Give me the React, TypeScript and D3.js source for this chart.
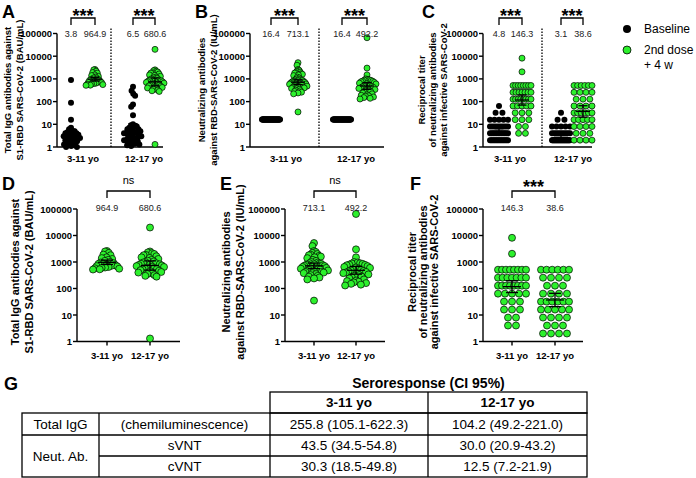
import React from 'react';
import * as d3 from 'd3';

const FONT = "'Liberation Sans', Arial, Helvetica, sans-serif";
const GREEN = '#2cf02c';

// ---------------- data ----------------
const ageGroups = ['3-11 yo', '12-17 yo'];
const logTicks = [1, 10, 100, 1000, 10000, 100000];

// Total IgG (BAU/mL)
const iggBase311 = [900, 90, 16, 7, 6, 5, 5, 4.5, 4, 4, 3.5, 3.5, 3, 3, 3, 2.5, 2.5, 2.2, 2, 2, 1.8, 1.6, 1.5, 1.4, 1.3, 1.2, 1.1, 1, 1];
const iggDose311 = [2600, 2500, 2200, 1900, 1800, 1500, 1400, 1300, 1200, 1100, 1000, 950, 900, 880, 850, 800, 760, 720, 700, 680, 650, 620, 600, 580, 560, 530, 520];
const iggBase1217 = [450, 300, 220, 180, 75, 60, 25, 10, 9, 8, 8, 7, 6, 6, 5, 5, 5, 4.5, 4, 4, 4, 3.5, 3, 3, 3, 2.5, 2.5, 2.2, 2, 2, 2, 1.8, 1.6, 1.5, 1.4, 1.3, 1.2, 1.1];
const iggDose1217 = [20000, 2500, 2300, 2150, 2000, 1850, 1800, 1650, 1500, 1420, 1300, 1200, 1120, 1050, 1000, 960, 900, 860, 820, 800, 770, 740, 700, 670, 650, 610, 590, 570, 540, 520, 490, 470, 450, 420, 400, 370, 350, 320, 300, 280, 1.3];

// Neutralizing antibodies (IU/mL) - baseline at detection limit: [value, count]
const nabBase311: [number, number][] = [[16.4, 45]];
const nabBase1217: [number, number][] = [[16.4, 40]];
const nabDose311 = [5200, 4000, 2600, 2400, 2200, 2000, 1900, 1800, 1700, 1600, 1500, 1400, 1200, 1100, 1000, 950, 900, 870, 850, 820, 800, 780, 750, 720, 700, 680, 650, 620, 600, 580, 560, 540, 520, 500, 480, 450, 450, 430, 420, 400, 380, 380, 350, 320, 300, 280, 260, 240, 220, 35];
const nabDose1217 = [65000, 3000, 1500, 1000, 950, 900, 880, 850, 800, 780, 750, 700, 650, 620, 600, 560, 520, 500, 480, 460, 440, 420, 400, 380, 360, 340, 320, 300, 280, 260, 240, 220, 200, 190, 180, 170, 160, 150, 140, 130];

// Reciprocal titer (cVNT): [titer, count]
const vntBase311: [number, number][] = [[64, 1], [32, 2], [16, 5], [8, 9], [4, 12], [2, 16]];
const vntDose311: [number, number][] = [[8192, 1], [2048, 1], [512, 8], [256, 7], [128, 8], [64, 5], [32, 3], [16, 3], [8, 2], [4, 2]];
const vntBase1217: [number, number][] = [[32, 1], [16, 2], [8, 5], [4, 10], [2, 28]];
const vntDose1217: [number, number][] = [[512, 6], [256, 4], [128, 3], [64, 4], [32, 6], [16, 5], [8, 4], [4, 3], [2, 4]];

const gmtIgg = ['3.8', '964.9', '6.5', '680.6'];
const gmtNab = ['16.4', '713.1', '16.4', '492.2'];
const gmtVnt = ['4.8', '146.3', '3.1', '38.6'];
const sigTop = ['***', '***'];
const sigBottom = ['ns', 'ns', '***'];
const legendLabels = ['Baseline', '2nd dose', '+ 4 w'];

const labelIgg = ['Total IgG antibodies against', 'S1-RBD SARS-CoV-2 (BAU/mL)'];
const labelNab = ['Neutralizing antibodies', 'against RBD-SARS-CoV-2 (IU/mL)'];
const labelVnt = ['Reciprocal titer', 'of neutralizing antibodies', 'against infective SARS-CoV-2'];

const tableTitle = 'Seroresponse (CI 95%)';
const tableRowLabels = ['Total IgG', 'Neut. Ab.'];
const tableMethods = ['(chemiluminescence)', 'sVNT', 'cVNT'];
const seroIgG = ['255.8 (105.1-622.3)', '104.2 (49.2-221.0)'];
const seroSvnt = ['43.5 (34.5-54.8)', '30.0 (20.9-43.2)'];
const seroCvnt = ['30.3 (18.5-49.8)', '12.5 (7.2-21.9)'];

// ---------------- helpers ----------------
const expand = (pairs: [number, number][]) => pairs.flatMap(([v, n]) => Array(n).fill(v) as number[]);

function swarm(ys: number[], d: number): number[] {
  const order = ys.map((_, i) => i).sort((a, b) => ys[a] - ys[b]);
  const placed: { x: number; y: number }[] = [];
  const xs = new Array(ys.length).fill(0);
  for (const i of order) {
    const y = ys[i];
    const iv: [number, number][] = [];
    for (const p of placed) {
      const dy = Math.abs(p.y - y);
      if (dy < d) {
        const w = Math.sqrt(d * d - dy * dy);
        iv.push([p.x - w, p.x + w]);
      }
    }
    const cands = [0];
    iv.forEach(([a, b]) => cands.push(a, b));
    cands.sort((a, b) => Math.abs(a) - Math.abs(b));
    let best = 0;
    for (const c of cands) {
      if (iv.every(([a, b]) => c <= a + 1e-6 || c >= b - 1e-6)) { best = c; break; }
    }
    xs[i] = best;
    placed.push({ x: best, y });
  }
  return xs;
}

function layout(values: number[], y: (v: number) => number, mode: string, r: number, maxHalf: number): number[] {
  const d = 2 * r * 0.95;
  if (mode === 'rows') {
    const xs = new Array(values.length).fill(0);
    const g = d3.group(values.map((_, i) => i), (i) => values[i]);
    for (const [, idx] of g) {
      const n = idx.length;
      const s = n > 1 ? Math.min(d * 1.2, (2 * maxHalf) / (n - 1)) : 0;
      idx.forEach((i, j) => (xs[i] = (j - (n - 1) / 2) * s));
    }
    return xs;
  }
  const xs = swarm(values.map(y), d);
  const m = d3.max(xs, (x) => Math.abs(x)) || 0;
  const k = m > maxHalf ? maxHalf / m : 1;
  return xs.map((x) => x * k);
}

function gmci(values: number[]): [number, number, number] {
  const l = values.map(Math.log10);
  const m = d3.mean(l) as number;
  const sd = d3.deviation(l) || 0;
  const h = (2.0 * sd) / Math.sqrt(l.length);
  return [10 ** m, 10 ** (m - h), 10 ** (m + h)];
}

type Group = { cx: number; values: number[]; color: 'black' | 'green'; mode: string };
type PanelProps = {
  letter: string; letterX: number; letterY: number;
  axisX: number; xEnd: number; yTop: number; yBottom: number;
  groups: Group[]; gmt: string[]; gmtY: number;
  dottedX?: number;
  brackets: { x1: number; x2: number; text: string }[];
  brTop: number; brLeg: number; sigY: number; nsY: number;
  xLabels: { x: number; text: string }[]; xTicks: boolean; xLabelY: number;
  yLabel: string[]; yLabelX: number[]; yLabelY: number; yLabelSize: number;
  r: number; maxHalf: number; gmHalf: number; capHalf: number;
};

const Panel = (p: PanelProps) => {
  const y = d3.scaleLog().domain([1, 100000]).range([p.yBottom, p.yTop]);
  return (
    <g>
      <text x={p.letterX} y={p.letterY} fontSize={18} fontWeight="bold" fontFamily={FONT}>{p.letter}</text>
      {p.yLabel.map((t, i) => (
        <text key={i} transform={`translate(${p.yLabelX[i]},${p.yLabelY}) rotate(-90)`} textAnchor="middle"
          dominantBaseline="central" fontSize={p.yLabelSize} fontWeight="bold" fontFamily={FONT}>{t}</text>
      ))}
      {/* y axis */}
      <line x1={p.axisX} x2={p.axisX} y1={y(100000)} y2={y(1)} stroke="#000" strokeWidth={1.4} />
      {logTicks.map((t) => (
        <g key={t}>
          <line x1={p.axisX - 4} x2={p.axisX} y1={y(t)} y2={y(t)} stroke="#000" strokeWidth={1.4} />
          <text x={p.axisX - 5} y={y(t)} textAnchor="end" dominantBaseline="central" fontSize={9.5}
            fontWeight="bold" fontFamily={FONT}>{t}</text>
        </g>
      ))}
      {/* x axis */}
      <line x1={p.axisX} x2={p.xEnd} y1={y(1)} y2={y(1)} stroke="#000" strokeWidth={1.4} />
      {p.xLabels.map((l, i) => (
        <g key={i}>
          {p.xTicks && <line x1={l.x} x2={l.x} y1={y(1)} y2={y(1) + 4} stroke="#000" strokeWidth={1.4} />}
          <text x={l.x} y={p.xLabelY} textAnchor="middle" dominantBaseline="central" fontSize={9.5}
            fontWeight="bold" fontFamily={FONT}>{l.text}</text>
        </g>
      ))}
      {p.dottedX !== undefined && (
        <line x1={p.dottedX} x2={p.dottedX} y1={y(100000) - 5} y2={y(1)} stroke="#000" strokeWidth={1.3}
          strokeDasharray="1.4,1.6" />
      )}
      {/* points */}
      {p.groups.map((g, gi) => {
        const xs = layout(g.values, y, g.mode, p.r, p.maxHalf);
        return (
          <g key={gi}>
            {g.values.map((v, i) => (
              <circle key={i} cx={g.cx + xs[i]} cy={y(v)} r={p.r}
                fill={g.color === 'black' ? '#000' : GREEN} stroke="#000"
                strokeWidth={g.color === 'black' ? 0 : 0.7} />
            ))}
          </g>
        );
      })}
      {/* error bars */}
      {p.groups.map((g, gi) => {
        const [m, lo, hi] = gmci(g.values);
        return (
          <g key={gi} stroke="#000" strokeWidth={1.3}>
            <line x1={g.cx - p.gmHalf} x2={g.cx + p.gmHalf} y1={y(m)} y2={y(m)} />
            <line x1={g.cx} x2={g.cx} y1={y(lo)} y2={y(hi)} />
            <line x1={g.cx - p.capHalf} x2={g.cx + p.capHalf} y1={y(lo)} y2={y(lo)} />
            <line x1={g.cx - p.capHalf} x2={g.cx + p.capHalf} y1={y(hi)} y2={y(hi)} />
          </g>
        );
      })}
      {/* gmt labels */}
      {p.groups.map((g, gi) => (
        <text key={gi} x={g.cx} y={p.gmtY} textAnchor="middle" dominantBaseline="central" fontSize={9}
          fill="#222" fontFamily={FONT}>{p.gmt[gi]}</text>
      ))}
      {/* brackets */}
      {p.brackets.map((b, i) => (
        <g key={i}>
          <path d={`M${b.x1},${p.brLeg}V${p.brTop}H${b.x2}V${p.brLeg}`} fill="none" stroke="#000" strokeWidth={1.3} />
          {b.text === 'ns' ? (
            <text x={(b.x1 + b.x2) / 2} y={p.nsY} textAnchor="middle" dominantBaseline="central" fontSize={11}
              fontFamily={FONT}>{b.text}</text>
          ) : (
            <text x={(b.x1 + b.x2) / 2} y={p.sigY} textAnchor="middle" fontSize={18} fontWeight="bold"
              fontFamily={FONT}>{b.text}</text>
          )}
        </g>
      ))}
    </g>
  );
};

const top = { yTop: 33.5, yBottom: 147, gmtY: 34, brTop: 18, brLeg: 25, sigY: 22, nsY: 12, xTicks: false, xLabelY: 158,
  yLabelY: 90, yLabelSize: 9.5, r: 3, maxHalf: 9, gmHalf: 7, capHalf: 4.5 };
const bottom = { yTop: 209, yBottom: 341.5, gmtY: 208, brTop: 191, brLeg: 198, sigY: 193, nsY: 180, xTicks: true, xLabelY: 355,
  yLabelY: 272, yLabelSize: 11, r: 3.5, maxHalf: 14, gmHalf: 9, capHalf: 6 };

const Table = () => {
  const L = 22, C1 = 99, C2 = 270, C3 = 428, R = 587;
  const H0 = 392, H1 = 413, R1 = 435, R2 = 456, R3 = 477;
  const sw = 1.3;
  const fs = 13.5;
  const t = (x: number, y: number, s: string, bold = false, size = fs) => (
    <text x={x} y={y} textAnchor="middle" dominantBaseline="central" fontSize={size}
      fontWeight={bold ? 'bold' : 'normal'} fontFamily={FONT}>{s}</text>
  );
  return (
    <g>
      <text x={4} y={390} fontSize={18} fontWeight="bold" fontFamily={FONT}>G</text>
      {t((C2 + R) / 2, 383, tableTitle, true, 14)}
      <g stroke="#000" strokeWidth={sw} fill="none">
        <rect x={C2} y={H0} width={R - C2} height={H1 - H0} />
        <line x1={C3} x2={C3} y1={H0} y2={R3} />
        <rect x={L} y={H1} width={R - L} height={R3 - H1} />
        <line x1={C1} x2={C1} y1={H1} y2={R3} />
        <line x1={C2} x2={C2} y1={H1} y2={R3} />
        <line x1={L} x2={R} y1={R1} y2={R1} />
        <line x1={C1} x2={R} y1={R2} y2={R2} />
      </g>
      {t((C2 + C3) / 2, (H0 + H1) / 2, ageGroups[0], true)}
      {t((C3 + R) / 2, (H0 + H1) / 2, ageGroups[1], true)}
      {t((L + C1) / 2, (H1 + R1) / 2, tableRowLabels[0])}
      {t((L + C1) / 2, (R1 + R3) / 2, tableRowLabels[1])}
      {t((C1 + C2) / 2, (H1 + R1) / 2, tableMethods[0])}
      {t((C1 + C2) / 2, (R1 + R2) / 2, tableMethods[1])}
      {t((C1 + C2) / 2, (R2 + R3) / 2, tableMethods[2])}
      {t((C2 + C3) / 2, (H1 + R1) / 2, seroIgG[0])}
      {t((C3 + R) / 2, (H1 + R1) / 2, seroIgG[1])}
      {t((C2 + C3) / 2, (R1 + R2) / 2, seroSvnt[0])}
      {t((C3 + R) / 2, (R1 + R2) / 2, seroSvnt[1])}
      {t((C2 + C3) / 2, (R2 + R3) / 2, seroCvnt[0])}
      {t((C3 + R) / 2, (R2 + R3) / 2, seroCvnt[1])}
    </g>
  );
};

export default function App() {
  return (
    <svg width={696} height={478} style={{ position: 'absolute', left: 0, top: 0, background: '#fff' }}>
      <rect width={696} height={478} fill="#fff" />
      <Panel {...top} letter="A" letterX={2} letterY={18} axisX={57} xEnd={163}
        groups={[
          { cx: 71, values: iggBase311, color: 'black', mode: 'swarm' },
          { cx: 95, values: iggDose311, color: 'green', mode: 'swarm' },
          { cx: 133, values: iggBase1217, color: 'black', mode: 'swarm' },
          { cx: 155, values: iggDose1217, color: 'green', mode: 'swarm' },
        ]}
        gmt={gmtIgg} dottedX={111}
        brackets={[{ x1: 71, x2: 95, text: sigTop[0] }, { x1: 133, x2: 155, text: sigTop[1] }]}
        xLabels={[{ x: 83, text: ageGroups[0] }, { x: 144, text: ageGroups[1] }]}
        yLabel={labelIgg} yLabelX={[7, 19]} />
      <Panel {...top} letter="B" letterX={195} letterY={18} axisX={250} xEnd={384}
        groups={[
          { cx: 271, values: expand(nabBase311), color: 'black', mode: 'rows' },
          { cx: 298, values: nabDose311, color: 'green', mode: 'swarm' },
          { cx: 342, values: expand(nabBase1217), color: 'black', mode: 'rows' },
          { cx: 367, values: nabDose1217, color: 'green', mode: 'swarm' },
        ]}
        gmt={gmtNab} dottedX={319}
        brackets={[{ x1: 271, x2: 298, text: sigTop[0] }, { x1: 342, x2: 367, text: sigTop[1] }]}
        xLabels={[{ x: 286, text: ageGroups[0] }, { x: 356, text: ageGroups[1] }]}
        yLabel={labelNab} yLabelX={[201, 213]} />
      <Panel {...top} letter="C" letterX={422} letterY={18} axisX={483} xEnd={592}
        groups={[
          { cx: 499, values: expand(vntBase311), color: 'black', mode: 'rows' },
          { cx: 522, values: expand(vntDose311), color: 'green', mode: 'rows' },
          { cx: 561, values: expand(vntBase1217), color: 'black', mode: 'rows' },
          { cx: 583, values: expand(vntDose1217), color: 'green', mode: 'rows' },
        ]}
        gmt={gmtVnt} dottedX={542}
        brackets={[{ x1: 499, x2: 522, text: sigTop[0] }, { x1: 561, x2: 583, text: sigTop[1] }]}
        xLabels={[{ x: 510, text: ageGroups[0] }, { x: 573, text: ageGroups[1] }]}
        yLabel={labelVnt} yLabelX={[421, 432, 443]} />
      {/* legend */}
      <circle cx={627} cy={29} r={4} fill="#000" />
      <circle cx={627} cy={50} r={4} fill={GREEN} stroke="#000" strokeWidth={0.8} />
      <text x={644} y={29} dominantBaseline="central" fontSize={12} fontFamily={FONT}>{legendLabels[0]}</text>
      <text x={644} y={50} dominantBaseline="central" fontSize={12} fontFamily={FONT}>{legendLabels[1]}</text>
      <text x={644} y={65} dominantBaseline="central" fontSize={12} fontFamily={FONT}>{legendLabels[2]}</text>

      <Panel {...bottom} letter="D" letterX={2} letterY={190} axisX={77} xEnd={180}
        groups={[
          { cx: 107, values: iggDose311, color: 'green', mode: 'swarm' },
          { cx: 150, values: iggDose1217, color: 'green', mode: 'swarm' },
        ]}
        gmt={[gmtIgg[1], gmtIgg[3]]}
        brackets={[{ x1: 107, x2: 150, text: sigBottom[0] }]}
        xLabels={[{ x: 107, text: ageGroups[0] }, { x: 150, text: ageGroups[1] }]}
        yLabel={labelIgg} yLabelX={[15, 29]} />
      <Panel {...bottom} letter="E" letterX={220} letterY={190} axisX={285} xEnd={385}
        groups={[
          { cx: 314, values: nabDose311, color: 'green', mode: 'swarm' },
          { cx: 356, values: nabDose1217, color: 'green', mode: 'swarm' },
        ]}
        gmt={[gmtNab[1], gmtNab[3]]}
        brackets={[{ x1: 314, x2: 356, text: sigBottom[1] }]}
        xLabels={[{ x: 314, text: ageGroups[0] }, { x: 356, text: ageGroups[1] }]}
        yLabel={labelNab} yLabelX={[226, 240]} />
      <Panel {...bottom} letter="F" letterX={410} letterY={190} axisX={483} xEnd={583}
        groups={[
          { cx: 512, values: expand(vntDose311), color: 'green', mode: 'rows' },
          { cx: 555, values: expand(vntDose1217), color: 'green', mode: 'rows' },
        ]}
        gmt={[gmtVnt[1], gmtVnt[3]]}
        brackets={[{ x1: 512, x2: 555, text: sigBottom[2] }]}
        xLabels={[{ x: 512, text: ageGroups[0] }, { x: 555, text: ageGroups[1] }]}
        yLabel={labelVnt} yLabelX={[412, 423, 434]} />
      <Table />
    </svg>
  );
}
